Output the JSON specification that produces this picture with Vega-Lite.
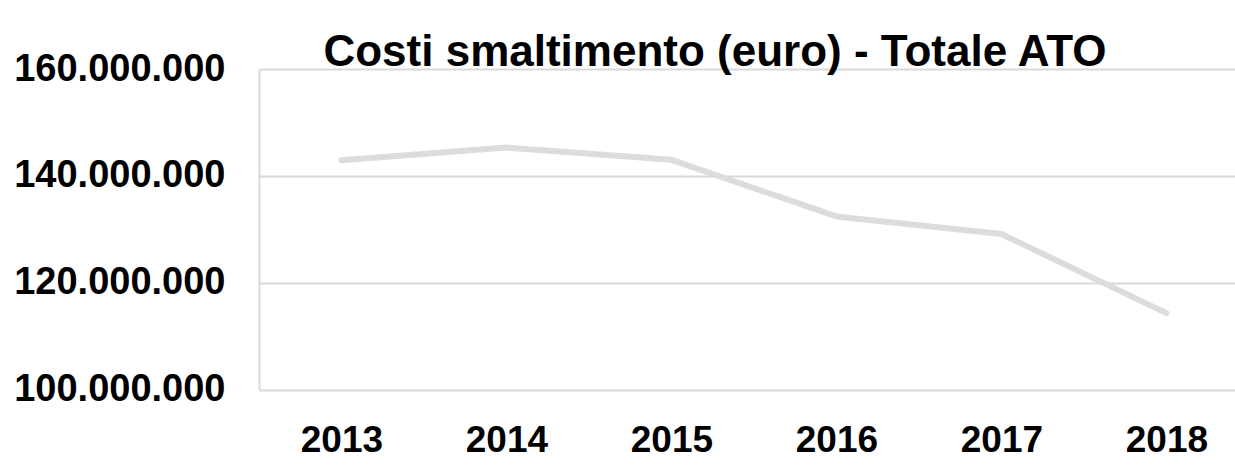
{
  "$schema": "https://vega.github.io/schema/vega-lite/v6.json",
  "width": 976,
  "height": 320.5,
  "autosize": {"type": "none"},
  "padding": {"left": 259, "top": 69, "right": 0, "bottom": 76.5},
  "background": "white",
  "config": {
    "locale": {"number": {"decimal": ",", "thousands": ".", "grouping": [3], "currency": ["€", ""]}},
    "view": {"stroke": null},
    "font": "Liberation Sans"
  },
  "title": {
    "text": "Costi smaltimento (euro) - Totale ATO",
    "fontSize": 44,
    "font": "Liberation Sans",
    "fontWeight": "bold",
    "color": "black",
    "anchor": "middle",
    "frame": "group",
    "baseline": "alphabetic",
    "offset": 5,
    "dx": -32,
    "dy": 65
  },
  "data": {
    "values": [
      {"anno": "2013", "costo": 142900000},
      {"anno": "2014", "costo": 145300000},
      {"anno": "2015", "costo": 143000000},
      {"anno": "2016", "costo": 132400000},
      {"anno": "2017", "costo": 129100000},
      {"anno": "2018", "costo": 114300000}
    ]
  },
  "mark": {"type": "line", "color": "#dcdcdc", "strokeWidth": 6, "strokeCap": "round", "strokeJoin": "round"},
  "encoding": {
    "x": {
      "field": "anno",
      "type": "ordinal",
      "scale": {"type": "point", "padding": 0.4576, "align": 0.546},
      "axis": {
        "title": null,
        "labelAngle": 0,
        "labelFontSize": 37,
        "labelFontWeight": "bold",
        "labelColor": "black",
        "domain": false,
        "ticks": false,
        "labelPadding": 33,
        "grid": false
      }
    },
    "y": {
      "field": "costo",
      "type": "quantitative",
      "scale": {"domain": [100000000, 160000000], "nice": false, "zero": false},
      "axis": {
        "title": null,
        "values": [100000000, 120000000, 140000000, 160000000],
        "format": ",d",
        "labelFontSize": 38,
        "labelFontWeight": "bold",
        "labelColor": "black",
        "labelLimit": 0,
        "ticks": false,
        "labelPadding": 34,
        "domainColor": "#d9d9d9",
        "domainWidth": 2,
        "gridColor": "#d9d9d9",
        "gridWidth": 2
      }
    }
  }
}
